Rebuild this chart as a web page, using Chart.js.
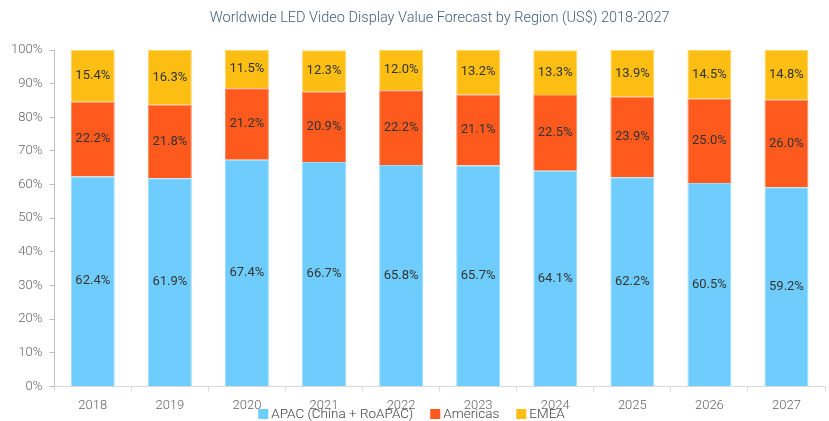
<!DOCTYPE html>
<html><head><meta charset="utf-8">
<script src="https://cdn.jsdelivr.net/npm/chart.js@4.4.1/dist/chart.umd.min.js"></script>
<style>html,body{margin:0;padding:0;background:#fff}#wrap{width:829px;height:421px}</style>
</head><body><div id="wrap"><canvas id="c" width="829" height="421"></canvas></div>
<script>
const chartTitle = 'Worldwide LED Video Display Value Forecast by Region (US$) 2018-2027';
const years = ['2018','2019','2020','2021','2022','2023','2024','2025','2026','2027'];
const apac = [62.4,61.9,67.4,66.7,65.8,65.7,64.1,62.2,60.5,59.2];
const americas = [22.2,21.8,21.2,20.9,22.2,21.1,22.5,23.9,25.0,26.0];
const emea = [15.4,16.3,11.5,12.3,12.0,13.2,13.3,13.9,14.5,14.8];
const seriesNames = ['APAC (China + RoAPAC)','Americas','EMEA'];
const seriesColors = ['#6FCDFE','#FE5A1D','#FDBE13'];
const seriesBorders = ['#9ADCFE','#FE8A60','#FED566'];

const labelPlugin = {
  id:'segLabels',
  afterDatasetsDraw(chart){
    const ctx = chart.ctx;
    ctx.save();
    ctx.font = '13px Roboto';
    ctx.fillStyle = '#333';
    ctx.textAlign = 'center';
    ctx.textBaseline = 'middle';
    chart.data.datasets.forEach((ds,i)=>{
      chart.getDatasetMeta(i).data.forEach((bar,j)=>{
        const v = ds.data[j];
        const y = (bar.y + bar.base)/2;
        ctx.fillText(v.toFixed(1)+'%', bar.x, y);
      });
    });
    const ca = chart.chartArea;
    ctx.font = '300 14.5px Roboto';
    ctx.fillStyle = '#44607A';
    ctx.fillText(chartTitle, (ca.left+ca.right)/2, 18);
    // legend
    ctx.font = '300 13.5px Roboto';
    ctx.textAlign = 'left';
    const box = 10, gapText = 3, gapItem = 17;
    const ds = chart.data.datasets;
    let total = 0;
    ds.forEach((d,i)=>{ total += box + gapText + ctx.measureText(d.label).width + (i<ds.length-1?gapItem:0); });
    let x = 411.5 - total/2;
    const y = 414;
    ds.forEach((d,i)=>{
      ctx.fillStyle = d.backgroundColor;
      ctx.fillRect(x, y-5, box, box);
      x += box + gapText;
      ctx.fillStyle = '#444';
      ctx.fillText(d.label, x, y+0.5);
      x += ctx.measureText(d.label).width + gapItem;
    });
    ctx.restore();
  }
};

new Chart(document.getElementById('c'), {
  type:'bar',
  data:{
    labels: years,
    datasets: [apac, americas, emea].map((arr,i)=>({
      label: seriesNames[i], data: arr,
      backgroundColor: seriesColors[i], borderColor: seriesBorders[i], borderWidth: 1
    }))
  },
  options:{
    responsive:false,
    animation:false,
    layout:{padding:{left:4,right:4,top:50,bottom:0}},
    datasets:{bar:{barPercentage:0.57,categoryPercentage:1}},
    plugins:{
      title:{display:false},
      legend:{display:false},
      tooltip:{enabled:false}
    },
    scales:{
      x:{stacked:true,
        grid:{display:true,drawOnChartArea:false,drawTicks:true,tickLength:5,color:'#d9d9d9',offset:true},
        border:{display:true,color:'#d9d9d9'},
        ticks:{color:'#666',font:{family:'Roboto',size:13,weight:'300'},padding:7}},
      y:{stacked:true,min:0,max:100,
        grid:{display:true,drawOnChartArea:false,drawTicks:true,tickLength:5,color:'#bfbfbf'},
        border:{display:true,color:'#bfbfbf'},
        ticks:{stepSize:10,color:'#666',font:{family:'Roboto',size:13,weight:'300'},padding:7,callback:v=>v+'%'}}
    }
  },
  plugins:[labelPlugin]
});
</script></body></html>
